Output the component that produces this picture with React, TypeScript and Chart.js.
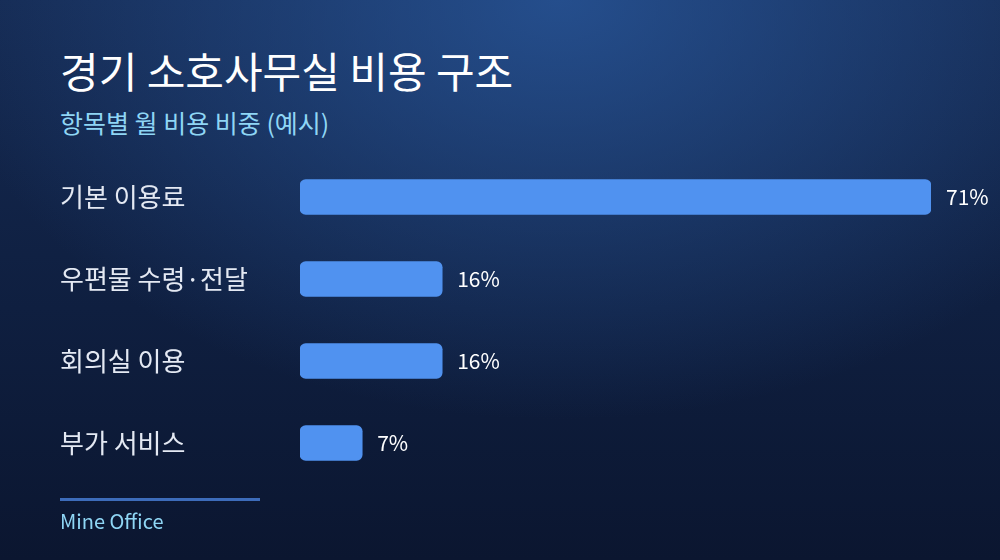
import { useEffect, useRef } from "react";
import { Chart, registerables, Plugin } from "chart.js";

Chart.register(...registerables);

const categories = ["기본 이용료", "우편물 수령·전달", "회의실 이용", "부가 서비스"];
const shares = [71, 16, 16, 7];
const valueLabels = ["71%", "16%", "16%", "7%"];

const FONT = '"Noto Sans CJK KR", "Noto Sans", sans-serif';

const valueLabelPlugin: Plugin<"bar"> = {
  id: "valueLabels",
  afterDatasetsDraw(chart) {
    const ctx = chart.ctx;
    const meta = chart.getDatasetMeta(0);
    ctx.save();
    ctx.font = `21px ${FONT}`;
    ctx.fillStyle = "#ffffff";
    ctx.textAlign = "left";
    ctx.textBaseline = "middle";
    meta.data.forEach((bar, i) => {
      ctx.fillText(valueLabels[i], bar.x + 15, bar.y);
    });
    ctx.restore();
  },
};

function CostChart() {
  const canvasRef = useRef<HTMLCanvasElement>(null);

  useEffect(() => {
    if (!canvasRef.current) return;
    const chart = new Chart(canvasRef.current, {
      type: "bar",
      data: {
        labels: categories,
        datasets: [
          {
            data: shares,
            backgroundColor: "#5092f0",
            borderRadius: 6,
            borderSkipped: false,
            barThickness: 35,
          },
        ],
      },
      options: {
        indexAxis: "y",
        animation: false,
        responsive: false,
        maintainAspectRatio: false,
        layout: { padding: { left: 60, top: 156, bottom: 76, right: 69 } },
        plugins: {
          legend: { display: false },
          tooltip: { enabled: false },
        },
        scales: {
          x: { display: false, min: 0, max: 71 },
          y: {
            grid: { display: false },
            border: { display: false },
            afterFit: (scale) => {
              scale.width = 240;
            },
            ticks: {
              crossAlign: "far",
              color: "#e4e9f3",
              font: { family: FONT, size: 26 },
            },
          },
        },
      },
      plugins: [valueLabelPlugin],
    });
    return () => chart.destroy();
  }, []);

  return (
    <canvas
      ref={canvasRef}
      width={1000}
      height={560}
      style={{ position: "absolute", left: 0, top: 0 }}
    />
  );
}

export default function App() {
  return (
    <div
      style={{
        position: "fixed",
        left: 0,
        top: 0,
        width: 1000,
        height: 560,
        overflow: "hidden",
        fontFamily: FONT,
        background:
          "radial-gradient(ellipse 620px 420px at 56% 0%, rgba(42,90,160,0.75) 0%, rgba(42,90,160,0) 100%), linear-gradient(180deg, #152a52 0%, #0f1f40 55%, #0b1630 100%)",
      }}
    >
      <div
        style={{
          position: "absolute",
          left: 60,
          top: 42,
          color: "#ffffff",
          fontSize: 42,
          fontWeight: 400,
          lineHeight: "56px",
          whiteSpace: "nowrap",
        }}
      >
        경기 소호사무실 비용 구조
      </div>
      <div
        style={{
          position: "absolute",
          left: 60,
          top: 105,
          color: "#8fd6f5",
          fontSize: 25,
          lineHeight: "34px",
          whiteSpace: "nowrap",
        }}
      >
        항목별 월 비용 비중 (예시)
      </div>
      <CostChart />
      <div
        style={{
          position: "absolute",
          left: 60,
          top: 498,
          width: 200,
          height: 3,
          background: "#3d6cba",
        }}
      />
      <div
        style={{
          position: "absolute",
          left: 60,
          top: 506,
          color: "#8fd6f5",
          fontSize: 20,
          lineHeight: "30px",
          whiteSpace: "nowrap",
        }}
      >
        Mine Office
      </div>
    </div>
  );
}
